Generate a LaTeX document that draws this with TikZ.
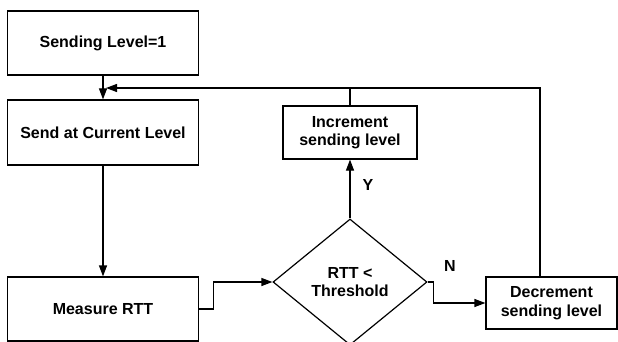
\documentclass[tikz,border=0pt]{standalone}
\usepackage{fontspec}
\setmainfont{Liberation Sans}
\usetikzlibrary{shapes.geometric,arrows.meta,calc}
\begin{document}
\begin{tikzpicture}[x=1pt,y=-1pt,
  box/.style={draw, line width=1.2pt, inner sep=0pt, align=center, font=\fontsize{16}{18.5}\selectfont\bfseries},
  dec/.style={draw, diamond, line width=1.2pt, inner sep=0pt, align=center, minimum width=154pt, minimum height=126pt, font=\fontsize{16}{18.5}\selectfont\bfseries},
  arr/.style={line width=1.2pt, -{Triangle[length=11pt,width=8pt]}},
  ln/.style={line width=1.2pt},
  lbl/.style={font=\fontsize{16}{18}\selectfont\bfseries}]
\useasboundingbox (0,0) rectangle (618,342);
\node[box, minimum width=191pt, minimum height=64pt] (b1) at (103,43) {Sending Level=1};
\node[box, minimum width=191pt, minimum height=65pt] (b2) at (103,132.5) {Send at Current Level};
\node[box, minimum width=191pt, minimum height=64pt] (meas) at (103,309) {Measure RTT};
\node[box, minimum width=134pt, minimum height=53pt] (inc) at (350,132.5) {Increment\\sending level};
\node[box, minimum width=131pt, minimum height=52pt] (decr) at (551.5,303) {Decrement\\sending level};
\node[dec] (dia) at (350,282) {RTT <\\Threshold};
\coordinate (j) at (106,88);
\coordinate (dtop) at (540,277);
\draw[arr] (b1.south) -- (b2.north);
\draw[arr] (dtop) |- (j);
\draw[ln] (inc.north) -- (inc.north |- j);
\draw[arr] (dia.north) -- (inc.south);
\draw[arr] (b2.south) -- (meas.north);
\draw[arr] (meas.east) -- ++(14,0) |- (dia.west);
\draw[arr] (dia.east) -- ++(6,0) |- (decr.west);
\node[lbl] (ly) at (368,185) {Y};
\node[lbl] (ln) at (450,266) {N};
\end{tikzpicture}
\end{document}
